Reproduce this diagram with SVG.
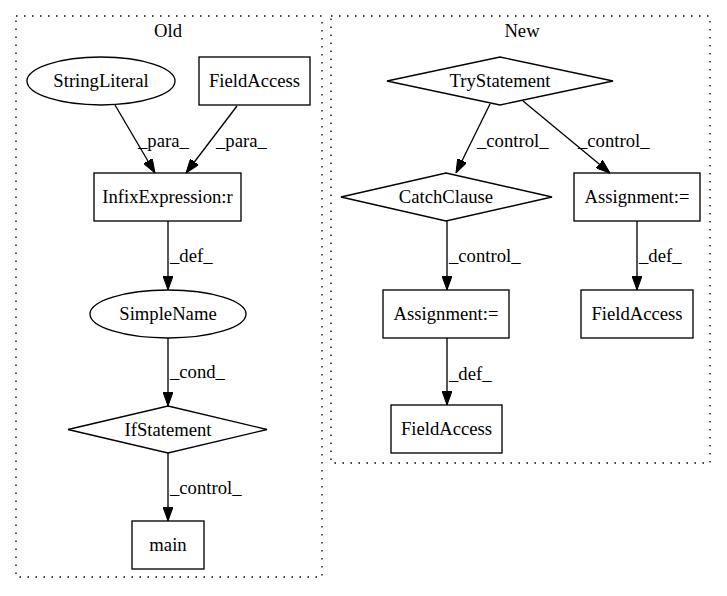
<svg xmlns="http://www.w3.org/2000/svg" width="727" height="596" viewBox="0 0 727 596">
<defs>
<style>
text{font-family:"Liberation Serif","Times New Roman",serif;font-size:18.67px;fill:#000}
.n{fill:none;stroke:#000;stroke-width:1.33}
.c{fill:none;stroke:#000;stroke-width:1.33;stroke-dasharray:1.5,6.5}
.e{fill:none;stroke:#000;stroke-width:1.33;marker-end:url(#ah)}
.m{text-anchor:middle}
</style>
<marker id="ah" markerUnits="userSpaceOnUse" markerWidth="14" markerHeight="10" refX="14" refY="5" orient="auto" viewBox="0 0 14 10">
<path d="M0,0 L14,5 L0,10 z" fill="#000" stroke="#000" stroke-width="1"/>
</marker>
</defs>
<rect width="727" height="596" fill="#fff"/>
<g id="cluster_old">
<rect class="c" x="16" y="16" width="306" height="561"/>
<text class="m" x="168" y="37">Old</text>
</g>
<g id="cluster_new">
<rect class="c" x="331" y="16" width="379" height="447"/>
<text class="m" x="522" y="37">New</text>
</g>
<g id="connectors">
<path class="e" d="M115,105 L155,173"/>
<text x="138" y="147">_para_</text>
<path class="e" d="M237,106 L186,173"/>
<text x="216" y="147">_para_</text>
<path class="e" d="M168,221 L168,290"/>
<text x="170" y="262">_def_</text>
<path class="e" d="M168,338 L168,406"/>
<text x="170" y="378">_cond_</text>
<path class="e" d="M168,453 L168,521"/>
<text x="170" y="494">_control_</text>
<path class="e" d="M490,104 L456,173"/>
<text x="477" y="147">_control_</text>
<path class="e" d="M523,101 L610,173"/>
<text x="578" y="147">_control_</text>
<path class="e" d="M447,221 L447,290"/>
<text x="449" y="262">_control_</text>
<path class="e" d="M637,221 L637,290"/>
<text x="639" y="262">_def_</text>
<path class="e" d="M447,338 L447,405"/>
<text x="449" y="380">_def_</text>
</g>
<g id="StringLiteral">
<ellipse class="n" cx="101" cy="81" rx="74" ry="24"/>
<text class="m" x="101" y="87">StringLiteral</text>
</g>
<g id="FieldAccess_old">
<rect class="n" x="199" y="57" width="111" height="48"/>
<text class="m" x="254.5" y="87">FieldAccess</text>
</g>
<g id="InfixExpression">
<rect class="n" x="94" y="173" width="147" height="48"/>
<text class="m" x="167.5" y="203">InfixExpression:r</text>
</g>
<g id="SimpleName">
<ellipse class="n" cx="168" cy="314" rx="78" ry="24"/>
<text class="m" x="168" y="320">SimpleName</text>
</g>
<g id="IfStatement">
<polygon class="n" points="168,406 267,429.5 168,453 68,429.5"/>
<text class="m" x="168" y="436">IfStatement</text>
</g>
<g id="main">
<rect class="n" x="132" y="521" width="72" height="48"/>
<text class="m" x="168" y="551">main</text>
</g>
<g id="TryStatement">
<polygon class="n" points="500,57 613,81 500,105 387,81"/>
<text class="m" x="500" y="87">TryStatement</text>
</g>
<g id="CatchClause">
<polygon class="n" points="446,173 552,197 446,221 341,197"/>
<text class="m" x="446" y="203">CatchClause</text>
</g>
<g id="Assignment_right">
<rect class="n" x="574" y="173" width="126" height="48"/>
<text class="m" x="637" y="203">Assignment:=</text>
</g>
<g id="Assignment_left">
<rect class="n" x="383" y="290" width="126" height="48"/>
<text class="m" x="446" y="320">Assignment:=</text>
</g>
<g id="FieldAccess_right">
<rect class="n" x="581" y="290" width="112" height="48"/>
<text class="m" x="637" y="320">FieldAccess</text>
</g>
<g id="FieldAccess_bottom">
<rect class="n" x="391" y="405" width="111" height="48"/>
<text class="m" x="446.5" y="435">FieldAccess</text>
</g>
</svg>
